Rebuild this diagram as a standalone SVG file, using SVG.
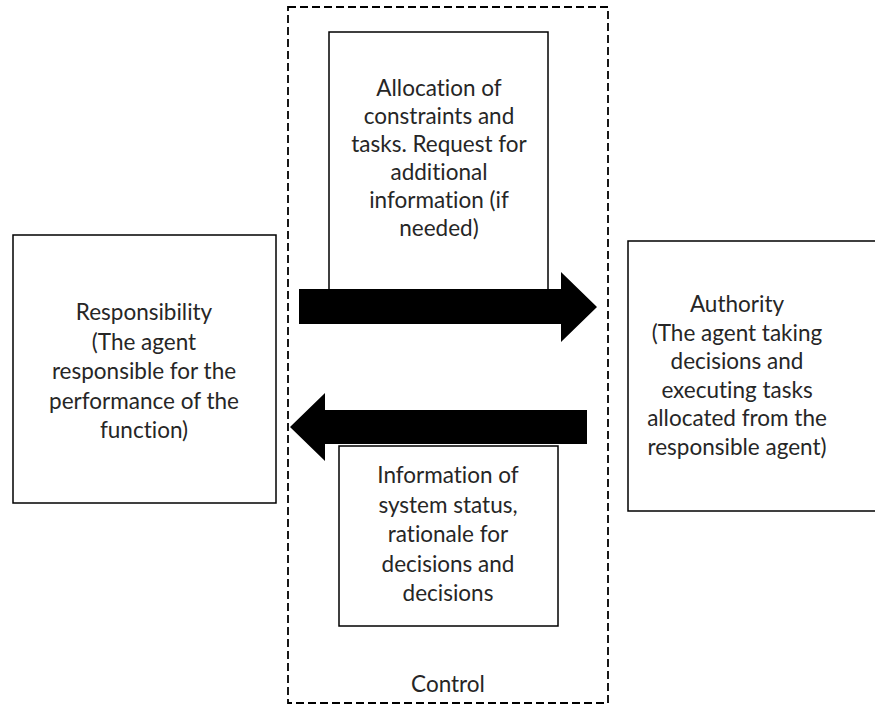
<svg xmlns="http://www.w3.org/2000/svg" width="875" height="706" viewBox="0 0 875 706">
<style>
.box{fill:#fff;stroke:#000;stroke-width:1.5}
.dash{fill:none;stroke:#000;stroke-width:1.8;stroke-dasharray:8,4}
.arrow{fill:#000;stroke:none}
text{font-family:Lato,"Open Sans","Liberation Sans",sans-serif;font-size:22.5px;fill:#262626;text-anchor:middle;font-variant-ligatures:none;font-feature-settings:"liga" 0,"dlig" 0}
</style>
<rect width="875" height="706" fill="#fff"/>
<g id="control">
<rect class="dash" x="288" y="7" width="320" height="696"/>
<text x="448" y="692">Control</text>
</g>
<g id="allocation">
<rect class="box" x="329" y="32" width="219" height="262"/>
<text x="439" y="96">Allocation of</text>
<text x="439" y="124">constraints and</text>
<text x="439" y="152">tasks. Request for</text>
<text x="439" y="180">additional</text>
<text x="439" y="208">information (if</text>
<text x="439" y="236">needed)</text>
</g>
<g id="information">
<rect class="box" x="339" y="446" width="219" height="180"/>
<text x="448" y="483">Information of</text>
<text x="448" y="512.5">system status,</text>
<text x="448" y="542">rationale for</text>
<text x="448" y="571.5">decisions and</text>
<text x="448" y="601">decisions</text>
</g>
<g id="responsibility">
<rect class="box" x="13" y="235" width="263" height="268"/>
<text x="144" y="320">Responsibility</text>
<text x="144" y="349.5">(The agent</text>
<text x="144" y="379">responsible for the</text>
<text x="144" y="408.5">performance of the</text>
<text x="144" y="438">function)</text>
</g>
<g id="authority">
<rect class="box" x="628" y="241" width="250" height="270"/>
<text x="737" y="312">Authority</text>
<text x="737" y="340.6">(The agent taking</text>
<text x="737" y="369.2">decisions and</text>
<text x="737" y="397.8">executing tasks</text>
<text x="737" y="426.4">allocated from the</text>
<text x="737" y="455">responsible agent)</text>
</g>
<g id="connectors">
<polygon class="arrow" points="299,289 561,289 561,272 597,307 561,342 561,324 299,324"/>
<polygon class="arrow" points="587,410 325,410 325,393 290,427 325,461 325,444 587,444"/>
</g>
</svg>
